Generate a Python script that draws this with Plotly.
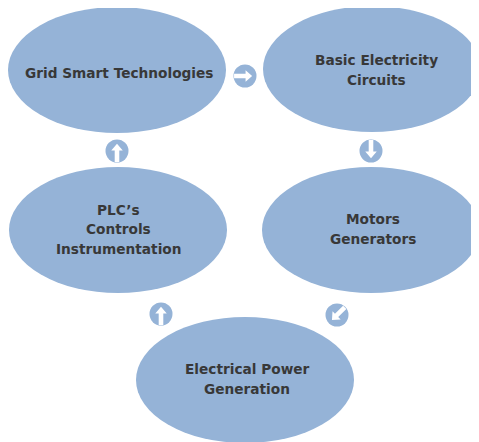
import math
import plotly.graph_objects as go

# Diagram content
node_labels = [
    "Grid Smart Technologies",
    "Basic Electricity<br>Circuits",
    "Motors<br>Generators",
    "Electrical Power<br>Generation",
    "PLC’s<br>Controls<br>Instrumentation",
]
node_centers = [(117, 70), (372, 69), (371, 230), (245, 380), (118, 230)]
text_centers = [(119, 73), (376, 70), (373, 229), (247, 379), (118, 229)]
arrow_centers = [(245, 76), (371, 151), (337, 315), (161, 314), (117, 151)]
arrow_angles = [0, 90, 135, -90, -90]  # degrees, screen coords (y down)

W, H = 479, 442
OFF = 8  # page body margin
RX, RY = 109, 63
FILL = "#95B3D7"
LINE_GAP = 19.5

fig = go.Figure()
shapes = []
for (cx, cy) in node_centers:
    shapes.append(dict(type="circle", xref="x", yref="y",
                       x0=cx - RX, x1=cx + RX, y0=cy - RY, y1=cy + RY,
                       fillcolor=FILL, line=dict(width=0), layer="below"))

R = 11.5
arrow_local = [(-0.95, -0.2), (0.05, -0.2), (0.05, -0.5), (0.62, 0.0),
               (0.05, 0.5), (0.05, 0.2), (-0.95, 0.2)]
for (cx, cy), ang in zip(arrow_centers, arrow_angles):
    shapes.append(dict(type="circle", xref="x", yref="y",
                       x0=cx - R, x1=cx + R, y0=cy - R, y1=cy + R,
                       fillcolor=FILL, line=dict(width=0), layer="below"))
    a = math.radians(ang)
    pts = []
    for (px, py) in arrow_local:
        x = cx + R * (px * math.cos(a) - py * math.sin(a))
        y = cy + R * (px * math.sin(a) + py * math.cos(a))
        pts.append(f"{x:.2f},{y:.2f}")
    path = "M " + " L ".join(pts) + " Z"
    shapes.append(dict(type="path", xref="x", yref="y", path=path,
                       fillcolor="white", line=dict(width=0), layer="below"))

annotations = []
for lab, (tx, ty) in zip(node_labels, text_centers):
    lines = lab.split("<br>")
    n = len(lines)
    for i, ln in enumerate(lines):
        y = ty + (i - (n - 1) / 2) * LINE_GAP
        annotations.append(dict(x=tx, y=y, xref="x", yref="y", text=ln,
                                showarrow=False, align="center",
                                font=dict(family="DejaVu Sans", size=13.7, weight="bold",
                                          color="#383838")))

fig.update_layout(
    width=W, height=H, margin=dict(l=0, r=0, t=0, b=0),
    paper_bgcolor="white", plot_bgcolor="white",
    xaxis=dict(range=[OFF, W + OFF], visible=False, fixedrange=True),
    yaxis=dict(range=[H + OFF, OFF], visible=False, fixedrange=True),
    shapes=shapes, annotations=annotations, showlegend=False,
)
fig.write_html("out.html")
